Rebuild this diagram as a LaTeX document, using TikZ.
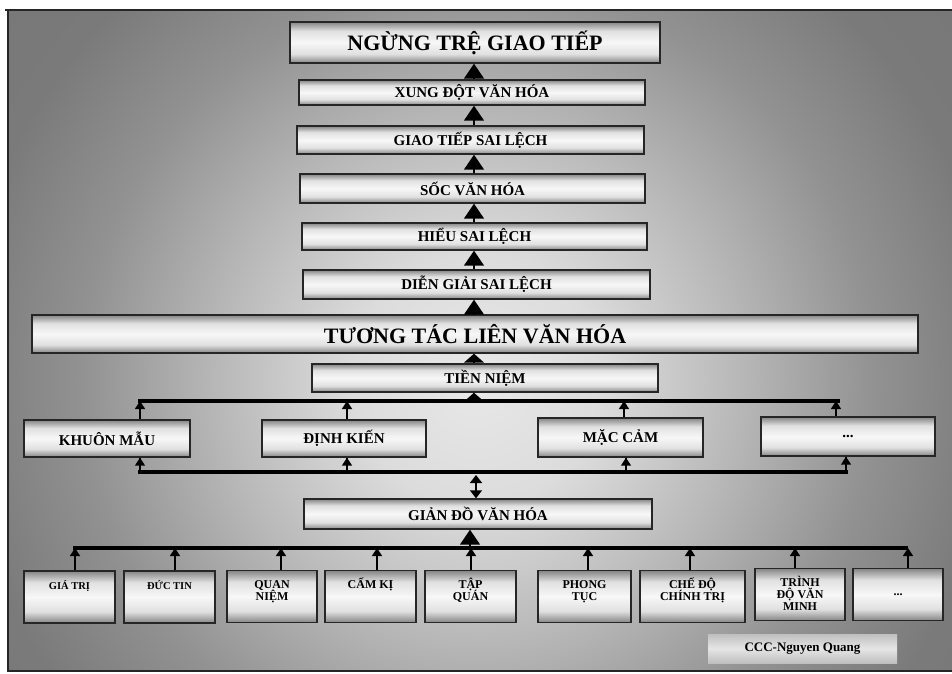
\documentclass[tikz,border=0pt]{standalone}
\usepackage{fontspec}
\setmainfont{Liberation Serif}
\usetikzlibrary{arrows.meta, positioning, calc}
\definecolor{bgA}{HTML}{E8E8E8}
\definecolor{bgB}{HTML}{DCDCDC}
\definecolor{bgC}{HTML}{B8B8B8}
\definecolor{bgD}{HTML}{929292}
\definecolor{bgE}{HTML}{7A7A7A}
\definecolor{bgF}{HTML}{6E6E6E}
\colorlet{boxEdge}{black!48}
\colorlet{boxMid}{white!88!black}
\colorlet{boxTop}{white!97!black}
\pgfdeclareradialshading{backShade}{\pgfpoint{0bp}{0bp}}{color(0bp)=(bgA); color(6bp)=(bgB); color(12.5bp)=(bgC); color(19bp)=(bgD); color(25bp)=(bgE); color(50bp)=(bgF)}
\pgfdeclareverticalshading{boxShade}{100bp}{color(0bp)=(boxEdge); color(25bp)=(boxEdge); color(36bp)=(boxMid); color(50bp)=(boxTop); color(64bp)=(boxMid); color(75bp)=(boxEdge); color(100bp)=(boxEdge)}
\newcommand{\fsize}[1]{\fontsize{#1}{#1}\selectfont}
\newcommand{\factorlabel}[1]{\parbox[c][48pt][t]{86pt}{\centering\lineskiplimit=-\maxdimen\rule{0pt}{16pt}#1}}
\tikzstyle{stage}=[draw=black!85, line width=1.4pt, shading=boxShade, inner sep=0pt, font=\bfseries\fsize{15}]
\tikzstyle{big}=[font=\bfseries\fsize{22}]
\tikzstyle{factor}=[stage, minimum width=91pt, minimum height=52pt, inner sep=2pt, font=\bfseries\fsize{12}]
\tikzstyle{bigarrow}=[-{Triangle[width=20pt,length=15pt]}, line width=1.5pt]
\tikzstyle{flatarrow}=[-{Triangle[width=20pt,length=9pt]}, line width=1.5pt]
\tikzstyle{arrow}=[-{Triangle[width=10pt,length=8pt]}, line width=1.5pt]
\tikzstyle{darrow}=[{Triangle[width=12pt,length=8pt]}-{Triangle[width=12pt,length=8pt]}, line width=1.5pt]
\tikzstyle{bus}=[line width=3.5pt, line cap=rect]
\tikzstyle{frame}=[line width=2.5pt, draw=black!85]
\tikzstyle{sign}=[top color=black!25, bottom color=black!25, middle color=white!90!black, minimum width=189pt, minimum height=29pt, font=\bfseries\fsize{13}]

\begin{document}
\begin{tikzpicture}[x=1pt, y=-1pt]
  \useasboundingbox (0,0) rectangle (952,673);
  % background
  \begin{scope}
    \clip (9,11) rectangle (952,671);
    \shade[shading=backShade] (-42,-140) rectangle (998,900);
  \end{scope}
  \draw[frame] (5,10) -- (952,10);
  \draw[frame] (8,10) -- (8,671) -- (952,671);

  % chain of consequences
  \coordinate (spine) at (474,0);
  \node (ngung) [stage, big, minimum width=370pt, minimum height=41pt] at (475,42.5) {NGỪNG TRỆ GIAO TIẾP};
  \node (xung) [stage, minimum width=346pt, minimum height=25pt] at (472,92.5) {XUNG ĐỘT VĂN HÓA};
  \node (giao) [stage, minimum width=347pt, minimum height=28pt] at (470.5,140) {GIAO TIẾP SAI LỆCH};
  \node (soc) [stage, minimum width=345pt, minimum height=29pt] at (472.5,188.5) {SỐC VĂN HÓA};
  \node (hieu) [stage, minimum width=345pt, minimum height=27pt] at (474.5,236.5) {HIỂU SAI LỆCH};
  \node (dien) [stage, minimum width=347pt, minimum height=29pt] at (476.5,284.5) {DIỄN GIẢI SAI LỆCH};
  \node (tuong) [stage, big, minimum width=886pt, minimum height=38pt] at (475,334) {TƯƠNG TÁC LIÊN VĂN HÓA};
  \node (tien) [stage, minimum width=346pt, minimum height=28pt] at (485,378) {TIỀN NIỆM};
  \foreach \lo/\hi in {xung/ngung, giao/xung, soc/giao, hieu/soc, dien/hieu, tuong/dien}
    \draw[bigarrow] (\lo.north -| spine) -- (\hi.south -| spine);
  \draw[flatarrow] (tien.north -| spine) -- (tuong.south -| spine);

  % causes of tien niem
  \node (khuon) [stage, minimum width=166pt, minimum height=37pt] at (107,438.5) {KHUÔN MẪU};
  \node (dinh) [stage, minimum width=164pt, minimum height=37pt] at (344,438.5) {ĐỊNH KIẾN};
  \node (mac) [stage, minimum width=165pt, minimum height=39pt] at (620.5,437.5) {MẶC CẢM};
  \node (more) [stage, minimum width=174pt, minimum height=39pt] at (848,436.5) {\raisebox{-3pt}{...}};
  \coordinate (ubusL) at (140,401);
  \coordinate (ubusR) at (838,401);
  \coordinate (lbusL) at (140,472);
  \coordinate (lbusR) at (846,472);
  \coordinate (lbusM) at (476,472);
  \draw[bus] (ubusL) -- (ubusR);
  \draw[bus] (lbusL) -- (lbusR);
  \draw[flatarrow] (ubusL -| spine) -- (tien.south -| spine);
  \foreach \n/\up/\dn in {khuon/33/33, dinh/3/3, mac/3.5/5.5, more/-12/-2} {
    \draw[arrow] ($(\n.north)+(\up,0)$) coordinate (foot) -- (foot |- ubusL);
    \draw[arrow] ($(\n.south)+(\dn,0)$) coordinate (head) -- (head |- lbusL) -- (head);
  }

  % cultural schema
  \node (gian) [stage, minimum width=348pt, minimum height=30pt] at (478,514) {GIẢN ĐỒ VĂN HÓA};
  \draw[darrow, shorten >=3pt] (gian.north -| lbusM) -- (lbusM);
  \coordinate (bbusL) at (75,548);
  \coordinate (bbusR) at (906,548);
  \coordinate (bbusM) at (470,548);
  \draw[bus] (bbusL) -- (bbusR);
  \draw[bigarrow] (bbusM) -- (gian.south -| bbusM);

  \node (gia) [factor] at (69.5,597) {\factorlabel{\fsize{10.5}GIÁ TRỊ}};
  \node (duc) [factor] at (169.5,597) {\factorlabel{\fsize{10.5}ĐỨC TIN}};
  \node (quan) [factor, minimum width=90pt] at (272,596.5) {\factorlabel{QUAN\\NIỆM}};
  \node (cam) [factor] at (370.5,596.5) {\factorlabel{CẤM KỊ}};
  \node (tap) [factor] at (470.5,596.5) {\factorlabel{TẬP\\QUÁN}};
  \node (phong) [factor, minimum width=93pt] at (584.5,596.5) {\factorlabel{PHONG\\TỤC}};
  \node (che) [factor, minimum width=105pt] at (692.5,596.5) {\factorlabel{CHẾ ĐỘ\\CHÍNH TRỊ}};
  \node (trinh) [factor, minimum width=90pt] at (800,594.5) {\factorlabel{TRÌNH\\ĐỘ VĂN\\MINH}};
  \node (moreb) [factor, minimum width=90pt] at (898,594.5) {...};
  \foreach \n/\d in {gia/5.5, duc/5.5, quan/9, cam/6.5, tap/0.5, phong/3.5, che/-2.5, trinh/-5, moreb/10}
    \draw[arrow] ($(\n.north)+(\d,0)$) coordinate (foot) -- (foot |- bbusL);

  \node (sign) [sign] at (802.5,648.5) {CCC-Nguyen Quang};
\end{tikzpicture}
\end{document}
